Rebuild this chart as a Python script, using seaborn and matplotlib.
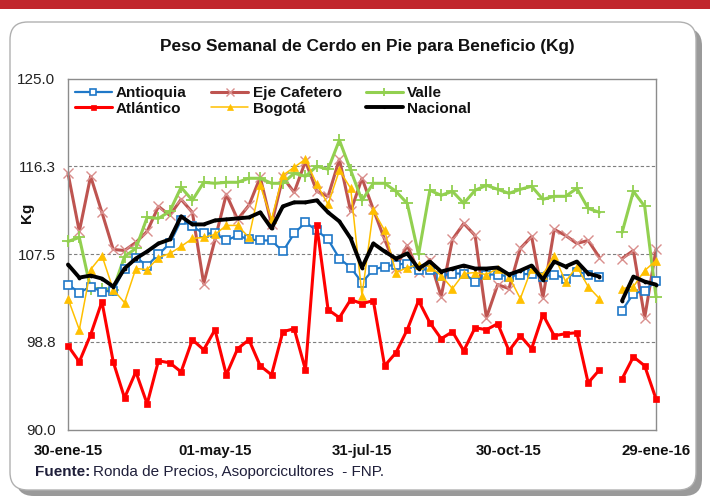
import numpy as np
import pandas as pd
import matplotlib
matplotlib.use("Agg")
import matplotlib.pyplot as plt
import seaborn as sns
from matplotlib.patches import FancyBboxPatch, Rectangle
from matplotlib.lines import Line2D

# ---------------- data ----------------
weeks = list(range(53))
tick_positions = [0, 13, 26, 39, 52]
tick_labels = ["30-ene-15", "01-may-15", "31-jul-15", "30-oct-15", "29-ene-16"]
y_ticks = [90.0, 98.8, 107.5, 116.3, 125.0]
nan = np.nan

antioquia = [104.5, 103.7, 104.3, 103.8, 103.9, 106.1, 107.2, 106.4, 107.5, 108.6,
             110.9, 110.3, 109.6, 109.6, 108.9, 109.4, 109.0, 108.9, 108.9, 107.8,
             109.6, 110.7, 109.9, 109.0, 107.1, 106.2, 104.7, 106.0, 106.3, 106.5,
             106.6, 106.0, 106.0, 105.4, 105.6, 105.6, 104.8, 105.5, 105.5, 105.3,
             105.5, 105.6, 105.3, 105.5, 105.1, 105.8, 105.5, 105.3, nan, 101.9,
             103.6, 103.9, 104.9]
atlantico = [98.4, 96.8, 99.5, 102.8, 96.8, 93.2, 95.8, 92.6, 96.9, 96.7,
             95.8, 99.0, 98.0, 100.0, 95.5, 98.1, 99.0, 96.4, 95.5, 99.8,
             100.1, 96.0, 110.4, 102.0, 101.2, 103.0, 102.6, 102.9, 96.4, 97.7,
             100.0, 102.9, 100.7, 99.1, 99.8, 97.9, 100.2, 100.0, 100.6, 97.9,
             99.4, 98.1, 101.5, 99.4, 99.6, 99.7, 94.7, 96.0, nan, 95.1,
             97.3, 96.4, 93.1]
eje_cafetero = [115.6, 109.8, 115.3, 111.7, 108.0, 107.9, 108.7, 109.8, 112.3, 111.4,
                113.0, 111.7, 104.6, 109.0, 113.5, 111.0, 112.4, 115.2, 110.5, 115.2,
                113.7, 116.8, 113.8, 113.3, 117.0, 111.8, 115.1, 112.0, 109.0, 106.2,
                108.4, 105.8, 107.0, 103.3, 109.0, 110.6, 109.4, 101.2, 104.5, 104.1,
                108.1, 109.3, 103.2, 110.0, 109.4, 108.6, 108.9, 107.2, nan, 107.1,
                107.9, 101.2, 108.0]
bogota = [103.1, 100.0, 106.0, 107.4, 104.0, 102.7, 106.1, 106.0, 107.2, 107.6,
          108.3, 109.1, 109.2, 109.5, 110.4, 110.4, 109.2, 114.4, 111.0, 115.4,
          116.2, 117.0, 114.5, 112.5, 115.9, 114.1, 103.4, 111.9, 109.9, 105.7,
          106.2, 106.5, 106.3, 105.4, 104.1, 105.6, 105.7, 105.5, 106.1, 105.3,
          103.1, 106.1, 105.5, 107.4, 104.8, 106.3, 104.3, 103.1, nan, 104.1,
          104.3, 105.9, 106.9]
valle = [108.8, 109.2, 104.1, 104.1, 104.0, 107.3, 108.1, 111.2, 111.1, 111.8,
         114.2, 112.9, 114.7, 114.6, 114.7, 114.7, 115.1, 115.1, 114.6, 114.6,
         115.6, 115.3, 116.3, 116.0, 118.9, 115.9, 112.9, 114.6, 114.6, 113.8,
         112.6, 107.5, 113.9, 113.4, 113.8, 112.6, 113.9, 114.4, 114.0, 113.6,
         114.0, 114.3, 113.0, 113.3, 113.3, 114.1, 112.1, 111.7, nan, 109.7,
         113.8, 112.3, 103.3]
nacional = [106.5, 105.2, 105.4, 105.1, 104.3, 106.1, 107.1, 107.8, 108.6, 109.0,
            111.3, 110.5, 110.5, 110.9, 111.0, 111.1, 111.2, 111.7, 110.1, 112.3,
            112.7, 112.7, 112.9, 111.7, 110.8, 109.1, 106.2, 108.6, 107.8, 107.1,
            107.6, 106.1, 106.8, 105.8, 106.1, 106.4, 106.1, 106.1, 106.2, 105.5,
            105.9, 106.4, 105.0, 106.8, 106.3, 106.8, 105.6, 105.3, nan, 102.9,
            105.3, 104.8, 104.5]

series = {
    "Antioquia": antioquia,
    "Atlántico": atlantico,
    "Eje Cafetero": eje_cafetero,
    "Bogotá": bogota,
    "Valle": valle,
    "Nacional": nacional,
}

styles = {
    "Eje Cafetero": dict(color="#BE5450", lw=2.2, marker="x", ms=7, mew=1.0,
                         mec="#D98E8C", mfc="none", z=2),
    "Valle": dict(color="#92D050", lw=2.2, marker="+", ms=8, mew=1.3,
                  mec="#92D050", mfc="none", z=3),
    "Antioquia": dict(color="#1F78C8", lw=1.6, marker="s", ms=6, mew=1.2,
                      mec="#1F78C8", mfc="white", z=4),
    "Atlántico": dict(color="#FF0000", lw=2.2, marker="s", ms=4.5, mew=0.5,
                      mec="#FF0000", mfc="#FF0000", z=5),
    "Bogotá": dict(color="#FFC000", lw=1.1, marker="^", ms=6, mew=0.5,
                   mec="#FFC000", mfc="#FFC000", z=6),
    "Nacional": dict(color="black", lw=2.8, marker="o", ms=2.2, mew=0.5,
                     mec="black", mfc="black", z=7),
}
draw_order = ["Eje Cafetero", "Valle", "Antioquia", "Atlántico", "Bogotá", "Nacional"]
legend_order = ["Antioquia", "Atlántico", "Eje Cafetero", "Bogotá", "Valle", "Nacional"]

rows = []
for name, vals in series.items():
    seg = 0
    for w, v in zip(weeks, vals):
        if np.isnan(v):
            seg += 1
            continue
        rows.append(dict(serie=name, week=w, value=v, seg=seg))
df = pd.DataFrame(rows)

# ---------------- figure ----------------
sns.set_style("white")
plt.rcParams["font.family"] = ["Liberation Sans", "DejaVu Sans"]

W, H = 710, 500
fig = plt.figure(figsize=(W / 100, H / 100), dpi=100)
fig.patch.set_facecolor("white")

def px(x, y, w, h):
    return (x / W, 1 - (y + h) / H, w / W, h / H)

# red header band
fig.patches.append(Rectangle((0, 1 - 9 / H), 1, 9 / H, transform=fig.transFigure,
                             facecolor="#C1272D", edgecolor="none", zorder=-3))
# card shadow + card
x0, y0, bw, bh = px(10, 22, 686, 468)
fig.patches.append(FancyBboxPatch((x0 + 6 / W, y0 - 6 / H), bw, bh,
                                  boxstyle="round,pad=0,rounding_size=0.025",
                                  transform=fig.transFigure, facecolor="#9A9A9A",
                                  edgecolor="none", zorder=-3, mutation_aspect=W / H))
fig.patches.append(FancyBboxPatch((x0, y0), bw, bh,
                                  boxstyle="round,pad=0,rounding_size=0.025",
                                  transform=fig.transFigure, facecolor="white",
                                  edgecolor="#B0B0B0", lw=1.0, zorder=-2,
                                  mutation_aspect=W / H))

ax = fig.add_axes([68 / W, 1 - 430 / H, (656 - 68) / W, (430 - 79) / H])
ax.set_facecolor("none")
ax.set_zorder(1)

for name in draw_order:
    st = styles[name]
    sub = df[df.serie == name]
    for segid, part in sub.groupby("seg"):
        sns.lineplot(data=part, x="week", y="value", ax=ax, color=st["color"],
                     lw=st["lw"], marker=st["marker"], markersize=st["ms"],
                     markeredgewidth=st["mew"], markeredgecolor=st["mec"],
                     markerfacecolor=st["mfc"], zorder=st["z"], clip_on=False,
                     estimator=None, sort=True)

ax.set_xlim(0, 52)
ax.set_ylim(90, 125)
ax.set_yticks(y_ticks)
ax.set_yticklabels([f"{v:.1f}" for v in y_ticks], fontsize=11, color="#222222")
ax.set_xticks(weeks, minor=True)
ax.set_xticks(tick_positions)
ax.set_xticklabels(tick_labels, fontsize=10.8, fontweight="bold", color="#111111")
ax.tick_params(axis="x", which="both", direction="out", length=5, color="#888888",
               width=0.8, pad=5)
ax.tick_params(axis="y", length=0, pad=9)
ax.set_xlabel("")
ax.set_ylabel("")
for s in ax.spines.values():
    s.set_color("#8C8C8C")
    s.set_linewidth(1.0)

for g in [98.8, 107.5, 116.3]:
    ax.axhline(g, color="#7F7F7F", lw=0.8, ls=(0, (3, 2)), zorder=1)

leg_handles = []
for name in legend_order:
    st = styles[name]
    leg_handles.append(Line2D([], [], color=st["color"], lw=st["lw"], marker=st["marker"],
                              markersize=st["ms"], markeredgewidth=st["mew"],
                              markeredgecolor=st["mec"], markerfacecolor=st["mfc"]))
leg = ax.legend(leg_handles, legend_order, ncol=3, loc="upper left",
                bbox_to_anchor=(0.0, 1.0), frameon=False, handlelength=2.4,
                handletextpad=0.3, columnspacing=1.6, labelspacing=0.12,
                borderaxespad=0.15, borderpad=0.3, markerscale=0.8,
                prop=dict(family="Liberation Sans", size=11, weight="bold"))
for t in leg.get_texts():
    t.set_color("#111111")

fig.text(27 / W, 1 - 213 / H, "Kg", rotation=90, ha="center", va="center",
         fontsize=11, fontweight="bold", color="#111111")

fig.text(367 / W, 1 - 47 / H, "Peso Semanal de Cerdo en Pie para Beneficio (Kg)",
         ha="center", va="center", fontsize=12.4, fontweight="bold", color="#111111")

t1 = fig.text(35 / W, 1 - 472 / H, "Fuente:", ha="left", va="center",
              fontsize=11, fontweight="bold", color="#1F1F3A")
fig.canvas.draw()
bb = t1.get_window_extent()
fig.text(bb.x1 / W + 3 / W, 1 - 472 / H, "Ronda de Precios, Asoporcicultores  - FNP.",
         ha="left", va="center", fontsize=11, color="#1F1F3A")

fig.savefig("out.png", dpi=100)
